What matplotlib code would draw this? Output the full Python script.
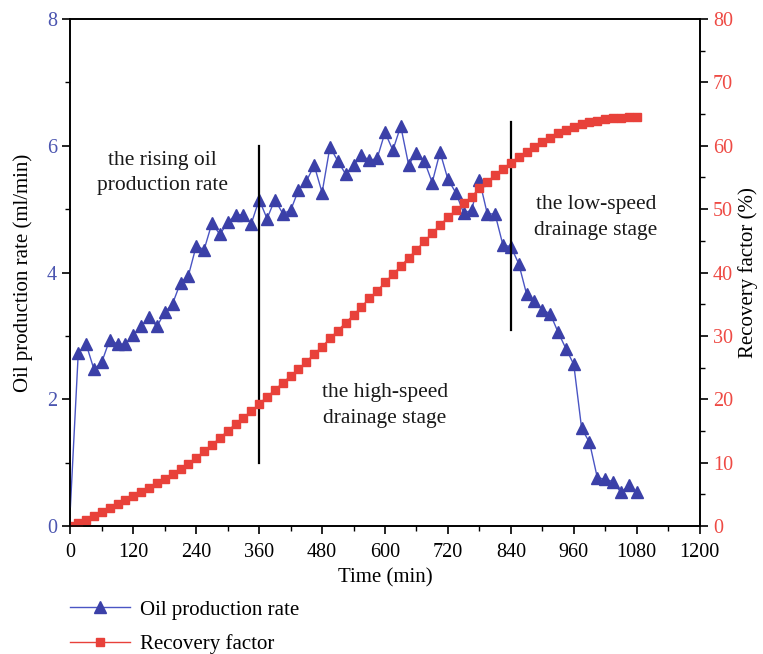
import matplotlib
matplotlib.use("Agg")
import matplotlib.pyplot as plt
from matplotlib.ticker import MultipleLocator

plt.rcParams['font.family'] = ['Liberation Serif', 'DejaVu Serif']

# Oil production rate (ml/min), sampled every 15 min (first value at t=0 has no marker)
time_oil = [0, 15, 30, 45, 60, 75, 90, 105, 120, 135, 150, 165, 180, 195, 210, 225,
            240, 255, 270, 285, 300, 315, 330, 345, 360, 375, 390, 405, 420, 435, 450,
            465, 480, 495, 510, 525, 540, 555, 570, 585, 600, 615, 630, 645, 660, 675,
            690, 705, 720, 735, 750, 765, 780, 795, 810, 825, 840, 855, 870, 885, 900,
            915, 930, 945, 960, 975, 990, 1005, 1020, 1035, 1050, 1065, 1080]
oil_rate = [0.3, 2.73, 2.87, 2.47, 2.59, 2.94, 2.87, 2.87, 3.01, 3.15, 3.29, 3.15, 3.37,
            3.51, 3.84, 3.95, 4.42, 4.36, 4.78, 4.60, 4.79, 4.91, 4.91, 4.77, 5.15, 4.85,
            5.15, 4.93, 4.98, 5.30, 5.44, 5.69, 5.26, 5.98, 5.76, 5.55, 5.69, 5.85, 5.77,
            5.80, 6.21, 5.93, 6.31, 5.70, 5.89, 5.76, 5.42, 5.90, 5.47, 5.26, 4.94, 4.98,
            5.46, 4.93, 4.92, 4.43, 4.41, 4.14, 3.66, 3.55, 3.41, 3.35, 3.06, 2.80, 2.55,
            1.54, 1.32, 0.76, 0.74, 0.70, 0.53, 0.64, 0.54]

# Recovery factor (%), sampled every 15 min
time_rf = [0, 15, 30, 45, 60, 75, 90, 105, 120, 135, 150, 165, 180, 195, 210, 225,
           240, 255, 270, 285, 300, 315, 330, 345, 360, 375, 390, 405, 420, 435, 450,
           465, 480, 495, 510, 525, 540, 555, 570, 585, 600, 615, 630, 645, 660, 675,
           690, 705, 720, 735, 750, 765, 780, 795, 810, 825, 840, 855, 870, 885, 900,
           915, 930, 945, 960, 975, 990, 1005, 1020, 1035, 1050, 1065, 1080]
recovery = [0.0, 0.42, 0.95, 1.58, 2.16, 2.79, 3.42, 4.10, 4.73, 5.36, 6.05, 6.73, 7.42,
            8.15, 8.99, 9.83, 10.8, 11.8, 12.8, 13.9, 15.0, 16.1, 17.1, 18.15, 19.25,
            20.4, 21.46, 22.6, 23.67, 24.72, 25.93, 27.14, 28.29, 29.6, 30.82, 32.08,
            33.29, 34.6, 35.9, 37.1, 38.45, 39.7, 41.0, 42.3, 43.6, 44.9, 46.2, 47.5,
            48.7, 49.85, 50.9, 51.97, 53.28, 54.33, 55.38, 56.4, 57.3, 58.27, 59.06,
            59.85, 60.6, 61.3, 61.96, 62.5, 63.0, 63.4, 63.7, 63.95, 64.17, 64.3, 64.45,
            64.55, 64.6]

x_ticks = [0, 120, 240, 360, 480, 600, 720, 840, 960, 1080, 1200]
left_ticks = [0, 2, 4, 6, 8]
right_ticks = [0, 10, 20, 30, 40, 50, 60, 70, 80]

# stage dividers (time, y range on left axis)
divider_times = [360, 840]
divider_low = [1.0, 3.1]
divider_high = [6.0, 6.38]

stage_labels = ["the rising oil\nproduction rate", "the high-speed\ndrainage stage",
                "the low-speed\ndrainage stage"]
stage_x = [175, 600, 1002]
stage_y = [5.57, 1.9, 4.87]

blue = '#3b40a8'
blue_line = '#4a55c4'
red = '#e8413a'
tick_blue = '#4b55b0'
tick_red = '#ee4a44'

fig = plt.figure(figsize=(7.63, 6.54), dpi=100)
ax = fig.add_axes([70.4 / 763, 1 - 526 / 654, (699.6 - 70.4) / 763, (526 - 19) / 654])
ax2 = ax.twinx()

l1, = ax.plot(time_oil, oil_rate, color=blue_line, lw=1.0, marker='^', ms=8,
              mfc=blue, mec=blue, markevery=slice(1, None), label='Oil production rate',
              zorder=3)
l2, = ax2.plot(time_rf, recovery, color=red, lw=1.0, marker='s', ms=6.0,
               mfc=red, mec=red, label='Recovery factor', zorder=2)

for t, lo, hi in zip(divider_times, divider_low, divider_high):
    ax.plot([t, t], [lo, hi], color='black', lw=1.6, zorder=4)

for s, xx, yy in zip(stage_labels, stage_x, stage_y):
    ax.text(xx, yy, s, ha='center', va='center', fontsize=15.5, color='#1a1a1a',
            linespacing=1.45, zorder=5)

ax.set_xlim(0, 1200)
ax.set_ylim(0, 8)
ax2.set_ylim(0, 80)
ax.set_xticks(x_ticks)
ax.xaxis.set_minor_locator(MultipleLocator(60))
ax.set_yticks(left_ticks)
ax.yaxis.set_minor_locator(MultipleLocator(1))
ax2.set_yticks(right_ticks)
ax2.yaxis.set_minor_locator(MultipleLocator(5))

for a in (ax, ax2):
    a.tick_params(which='major', direction='out', length=6, width=1.2, labelsize=14.5)
    a.tick_params(which='minor', direction='out', length=3.5, width=1.0)
    for sp in a.spines.values():
        sp.set_linewidth(1.2)

ax.tick_params(axis='x', pad=6)
ax.tick_params(axis='y', labelcolor=tick_blue)
ax2.tick_params(axis='y', labelcolor=tick_red)

ax.set_xlabel('Time (min)', fontsize=15, labelpad=5)
ax.set_ylabel('Oil production rate (ml/min)', fontsize=15, labelpad=10)
ax2.set_ylabel('Recovery factor (%)', fontsize=15, labelpad=4)

fig.legend(handles=[l1, l2], loc='upper left', bbox_to_anchor=(70 / 763, 1 - 600 / 654),
           frameon=False, fontsize=15, handlelength=2.9, handletextpad=0.45,
           labelspacing=0.7, borderpad=0, borderaxespad=0)

fig.savefig('out.png', dpi=100)
